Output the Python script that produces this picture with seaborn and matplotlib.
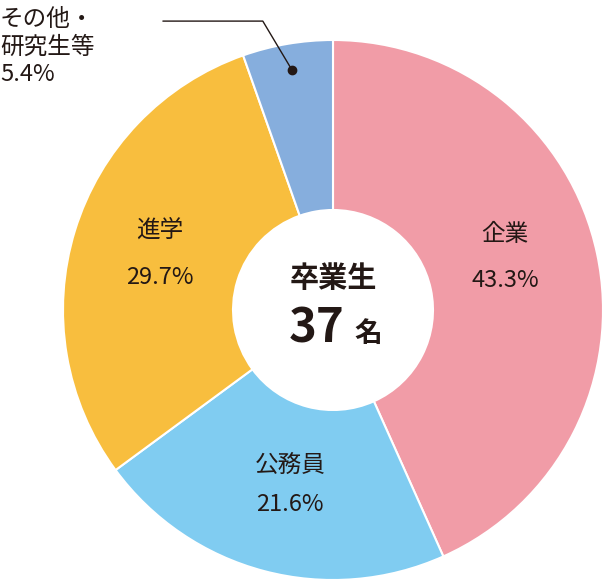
import matplotlib
matplotlib.use("Agg")
import matplotlib.pyplot as plt
import seaborn as sns

# データ
categories = ["企業", "公務員", "進学", "その他・\n研究生等"]
values = [43.3, 21.6, 29.7, 5.4]
colors = ["#F19CA7", "#80CCF1", "#F8BE3E", "#86AEDD"]
total_label = "37"

sns.set_theme(style="white")
plt.rcParams["font.family"] = ["Noto Sans CJK JP", "DejaVu Sans"]

fig = plt.figure(figsize=(6.05, 5.8), dpi=100)
ax = fig.add_axes([63 / 605, 0, 540 / 605, 540 / 580])
ax.pie(values, colors=colors, startangle=90, counterclock=False, radius=1,
       wedgeprops=dict(width=1 - 100 / 270, edgecolor="white", linewidth=1.5))
ax.set_xlim(-1, 1)
ax.set_ylim(-1, 1)
ax.set_aspect("equal")
ax.axis("off")

txt = "#231815"
fs = 17
ax.text(0.637, 0.278, categories[0], ha="center", va="center", fontsize=fs, color=txt)
ax.text(0.637, 0.111, f"{values[0]}%", ha="center", va="center", fontsize=fs, color=txt)
ax.text(-0.16, -0.574, categories[1], ha="center", va="center", fontsize=fs, color=txt)
ax.text(-0.16, -0.72, f"{values[1]}%", ha="center", va="center", fontsize=fs, color=txt)
ax.text(-0.64, 0.296, categories[2], ha="center", va="center", fontsize=fs, color=txt)
ax.text(-0.64, 0.119, f"{values[2]}%", ha="center", va="center", fontsize=fs, color=txt)

# その他 ラベル（図の左上）
fig.text(0.0, 1 - 8 / 580, categories[3] + f"\n{values[3]}%", ha="left", va="top",
         fontsize=fs, color=txt, linespacing=1.25)
ax.plot([-0.63, -0.26, -0.152], [1.07, 1.07, 0.889], color=txt, lw=1, clip_on=False)
ax.plot([-0.152], [0.889], "o", color=txt, ms=6, clip_on=False)

# 中央
ax.text(0, 0.12, "卒業生", ha="center", va="center", fontsize=21, fontweight="bold", color=txt)
ax.text(-0.06, -0.07, total_label, ha="center", va="center", fontsize=34, fontweight="bold", color=txt)
ax.text(0.13, -0.09, "名", ha="center", va="center", fontsize=20, fontweight="bold", color=txt)

fig.savefig("out.png", dpi=100)
